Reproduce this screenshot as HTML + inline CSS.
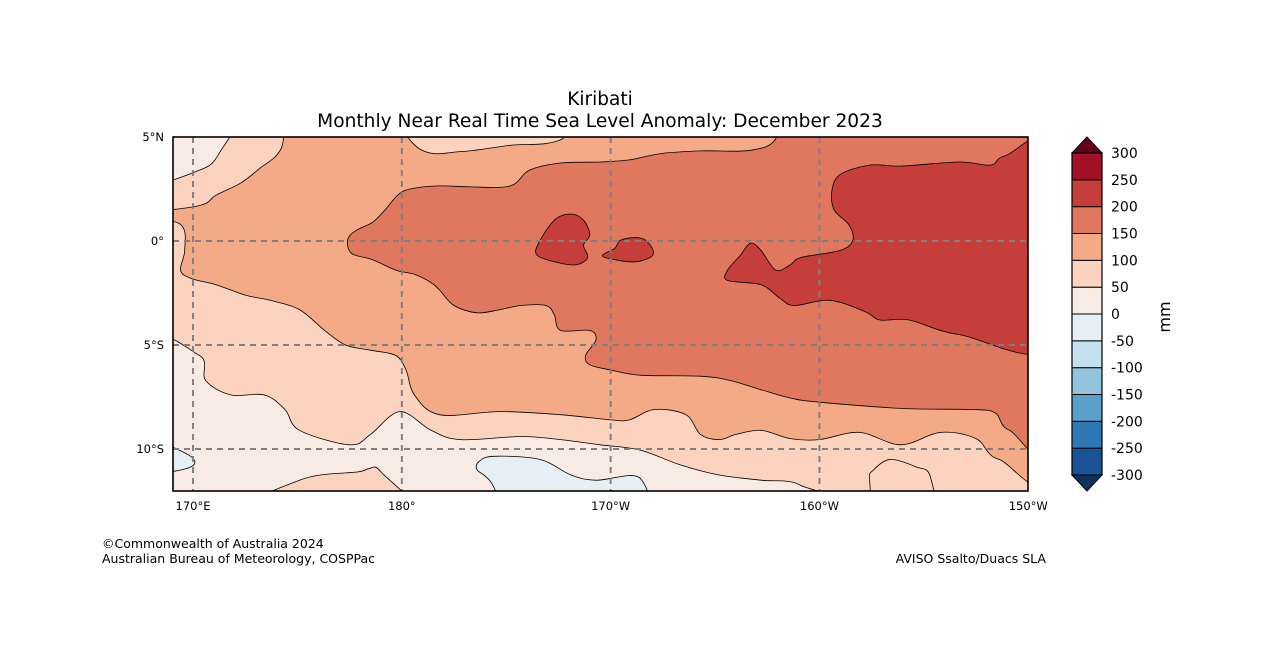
<!DOCTYPE html>
<html><head><meta charset="utf-8">
<style>
html,body{margin:0;padding:0;background:#fff;}
body{width:1262px;height:667px;overflow:hidden;font-family:"Liberation Sans","DejaVu Sans",sans-serif;}
svg text{font-family:"DejaVu Sans","Liberation Sans",sans-serif;}
</style></head>
<body>
<svg id="chart" width="1262" height="667" viewBox="0 0 1262 667" xmlns="http://www.w3.org/2000/svg">
<text x="600" y="105" text-anchor="middle" font-size="18.5" fill="#000">Kiribati</text>
<text x="600" y="127" text-anchor="middle" font-size="18.6" fill="#000">Monthly Near Real Time Sea Level Anomaly: December 2023</text>
<defs><clipPath id="mapclip"><rect x="173" y="137" width="855" height="354"/></clipPath></defs>
<g id="map" clip-path="url(#mapclip)"></g>
<g id="grid"></g>
<rect x="173" y="137" width="855" height="354" fill="none" stroke="#000" stroke-width="1.6"/>
<g id="ticks"></g>
<g id="cbar"></g>
<text x="1170" y="317" font-size="16" transform="rotate(-90 1170 317)" text-anchor="middle">mm</text>
<text x="102" y="548" font-size="12.5">©Commonwealth of Australia 2024</text>
<text x="102" y="563" font-size="12.5">Australian Bureau of Meteorology, COSPPac</text>
<text x="1046" y="563" font-size="12.5" text-anchor="end">AVISO Ssalto/Duacs SLA</text>
</svg>
<script>
// ----- data -----
const levelBounds = [-300,-250,-200,-150,-100,-50,0,50,100,150,200,250,300];
const levelColors = ["#1a5496","#2f78b5","#5aa0cb","#93c4de","#c5e0ee","#e6eff3","#f8ebe4","#fbd3bf","#f4a987","#e0775f","#c53e3a","#a11228"];
const lonTicks = [170,180,190,200,210];
const lonTickLabels = ["170°E","180°","170°W","160°W","150°W"];
const latTicks = [5,0,-5,-10];
const latTickLabels = ["5°N","0°","5°S","10°S"];
// contour regions: [level index, [[lon,lat],...]]
const regionLevels = [7,6,6,7,5,5,8,7,9,10,10,10];
const regionShapes = [
 [[169,5],[210,5],[210,-12.1],[169,-12.1]],
 [[169,5],[172.1,5],[171.3,4.3],[170.3,3.4],[169,2.9]],
 [[169,-5],[170.3,-5.5],[170.6,-6.7],[171.8,-7.4],[173.4,-7.4],[174.4,-8.1],[175.1,-9.1],[177.5,-9.8],[178.5,-9.3],[179.9,-8.2],[181.4,-9.1],[182.8,-9.55],[185.7,-9.4],[187.6,-9.55],[189.5,-9.8],[191.4,-10.05],[193.3,-10.75],[195.2,-11.25],[197.2,-11.5],[199.1,-11.75],[200.5,-12.1],[169,-12.1]],
 [[171.6,-12.1],[175.1,-11.5],[177.9,-11.1],[178.4,-10.95],[179.0,-11.1],[180.4,-12.1]],
 [[169,-9.5],[169.8,-10.3],[169.8,-10.9],[169,-11.1]],
 [[183.7,-10.6],[184.4,-10.35],[186.6,-10.5],[188.1,-11.25],[189.3,-11.5],[191.4,-11.4],[191.4,-12.1],[185.9,-12.1],[184.2,-11.5],[183.6,-11.0]],
 [[169,1.25],[170.3,1.7],[171.1,2.2],[172.3,2.8],[173.2,3.5],[174.2,4.4],[174.9,5],[178.7,5],[180.9,4.4],[182.8,4.3],[185.2,4.6],[187.6,4.86],[190,5],[210,5],[210,-10.6],[208.6,-10.5],[207.5,-9.5],[205.8,-9.2],[203.9,-9.8],[201.9,-9.2],[200,-9.55],[198.6,-9.5],[197.2,-9.1],[196,-9.3],[195.2,-9.55],[194.3,-9.3],[193.6,-8.35],[192.1,-8.1],[190.9,-8.6],[190,-8.6],[187.6,-8.35],[184.7,-8.2],[181.8,-8.35],[180.6,-7.4],[180.2,-6.2],[179.7,-5.5],[178.5,-5.25],[177.3,-5],[176.3,-4.3],[175.1,-3.3],[173.7,-2.85],[172.5,-2.6],[171.1,-2.1],[169.9,-1.8],[169.4,-1.4],[169.6,-0.45],[169.4,0.8]],
 [[202.6,-11.0],[203.4,-10.5],[204.6,-10.85],[205.3,-11.3],[205.4,-12.1],[202.9,-12.1],[202.4,-11.5]],
 [[210,-9.5],[209.1,-9.1],[208.4,-8.25],[207.2,-8.1],[203.9,-8.05],[200,-7.75],[198.6,-7.55],[197.2,-7.15],[195.7,-6.7],[194.3,-6.5],[191.4,-6.45],[190,-6.2],[189,-5.95],[188.8,-5.5],[189.3,-4.75],[189,-4.3],[187.6,-4.3],[187.3,-3.55],[186.9,-3.1],[185.7,-3.1],[184.7,-3.3],[183.6,-3.45],[182.5,-3.1],[181.8,-2.35],[181.4,-2.0],[180.6,-1.6],[179.7,-1.4],[178.6,-0.9],[177.6,-0.6],[177.4,0.05],[177.8,0.5],[178.6,0.9],[179.2,1.5],[179.8,2.2],[180.4,2.5],[181.8,2.65],[183.3,2.6],[185.2,2.65],[186.1,3.4],[187.6,3.75],[189.5,3.8],[190.9,3.9],[192.4,4.2],[194.3,4.33],[196.7,4.36],[197.9,4.9],[198.1,5],[210,5]],
 [[210,4.6],[208.9,4.1],[208.2,3.65],[206.7,3.8],[203.9,3.6],[202.4,3.65],[201,3.2],[200.6,2.45],[200.7,1.5],[201.4,0.8],[201.6,0.05],[201,-0.45],[199.1,-0.8],[198.6,-1.15],[197.9,-1.4],[197.2,-0.45],[196.7,-0.1],[196.2,-0.7],[195.6,-1.4],[195.6,-1.9],[197.2,-2.1],[198.1,-2.75],[198.8,-3.1],[200.5,-2.85],[202.2,-3.4],[202.9,-3.8],[204.3,-3.8],[206.7,-4.5],[210,-4.85]],
 [[186.5,-0.2],[187.3,1.0],[188.1,1.3],[188.7,1.0],[189,0.3],[188.7,-0.2],[188.9,-0.8],[188.3,-1.15],[187.3,-1.0],[186.5,-0.7]],
 [[189.6,-0.7],[190.2,-0.35],[190.5,0.05],[191.4,0.15],[191.9,-0.2],[192,-0.7],[191.2,-1.0],[190.2,-0.9]]
];
// ----- scales -----
const lonMin=169.04, latMax=5, pxDeg=20.88, pyDeg=20.8;
function xScale(lon){return 173+(lon-lonMin)*pxDeg;}
function yScale(lat){return 137+(latMax-lat)*pyDeg;}
const NS="http://www.w3.org/2000/svg";
function mk(tag,attrs,parent){const e=document.createElementNS(NS,tag);for(const k in attrs)e.setAttribute(k,attrs[k]);parent.appendChild(e);return e;}
// points lying on the map frame are pushed outside so smoothing does not round the frame corners
function pushOut(q){
  let lon=q[0],lat=q[1];
  if(lon>=210)lon=211.5; else if(lon<=169.0)lon=167.5;
  if(lat>=5)lat=6.5; else if(lat<=-12.1)lat=-13.5;
  return [lon,lat];
}
function smoothPath(pts){
  const p=pts.map(q=>{const r=pushOut(q);return [xScale(r[0]),yScale(r[1])];});
  const n=p.length;let d="M"+p[0][0].toFixed(1)+","+p[0][1].toFixed(1);
  for(let i=0;i<n;i++){
    const p0=p[(i-1+n)%n],p1=p[i],p2=p[(i+1)%n],p3=p[(i+2)%n];
    const c1=[p1[0]+(p2[0]-p0[0])/6,p1[1]+(p2[1]-p0[1])/6];
    const c2=[p2[0]-(p3[0]-p1[0])/6,p2[1]-(p3[1]-p1[1])/6];
    d+="C"+c1[0].toFixed(1)+","+c1[1].toFixed(1)+" "+c2[0].toFixed(1)+","+c2[1].toFixed(1)+" "+p2[0].toFixed(1)+","+p2[1].toFixed(1);
  }
  return d+"Z";
}
const map=document.getElementById('map');
regionShapes.forEach((shape,i)=>{
  const el=mk('path',{d:smoothPath(shape),fill:levelColors[regionLevels[i]],stroke:i===0?"none":"#000","stroke-width":0.8},map);
  
  
});
// gridlines & ticks
const grid=document.getElementById('grid'), ticks=document.getElementById('ticks');
lonTicks.forEach((lon,i)=>{
  const x=xScale(lon);
  if(lon<210){const g=mk('line',{x1:x,y1:137,x2:x,y2:491,stroke:"#808080","stroke-width":2,"stroke-dasharray":"6,5"},grid);
  
  }
  const t=mk('text',{x:x,y:510,"font-size":11.5,"text-anchor":"middle"},ticks);t.textContent=lonTickLabels[i];
  
  
});
latTicks.forEach((lat,i)=>{
  const y=yScale(lat);
  if(lat<5){const g=mk('line',{x1:173,y1:y,x2:1028,y2:y,stroke:"#808080","stroke-width":2,"stroke-dasharray":"6,5"},grid);
  
  }
  const t=mk('text',{x:164,y:y+4,"font-size":11.5,"text-anchor":"end"},ticks);t.textContent=latTickLabels[i];
  
  
});
// colorbar
const cb=document.getElementById('cbar');
const cbTop=153,cbBot=475,cbX=1072,cbW=30,seg=(cbBot-cbTop)/levelColors.length;
levelColors.forEach((c,i)=>{
  const y=cbBot-(i+1)*seg;
  const r=mk('rect',{x:cbX,y:y,width:cbW,height:seg,fill:c,stroke:"#000","stroke-width":1},cb);
  
  
});
const up=mk('polygon',{points:`${cbX},${cbTop} ${cbX+cbW/2},137 ${cbX+cbW},${cbTop}`,fill:"#67001f",stroke:"#000","stroke-width":1},cb);


const dn=mk('polygon',{points:`${cbX},${cbBot} ${cbX+cbW/2},491 ${cbX+cbW},${cbBot}`,fill:"#0c3260",stroke:"#000","stroke-width":1},cb);


mk('rect',{x:cbX,y:cbTop,width:cbW,height:cbBot-cbTop,fill:"none",stroke:"#000","stroke-width":1.2},cb);
levelBounds.forEach((v,i)=>{
  const y=cbBot-i*seg;
  const t=mk('text',{x:1111,y:y+5,"font-size":14},cb);t.textContent=String(v);
  
  
});
</script>
</body></html>
